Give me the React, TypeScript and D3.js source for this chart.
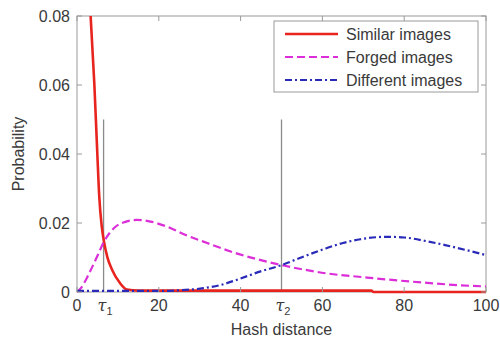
import React from 'react'
import * as d3 from 'd3'

// values
const similarX = [3.33, 4.23, 4.96, 5.45, 6.0, 6.6, 7.4, 8.6, 10.5, 12.2, 15, 72, 72.5, 100]
const similarY = [0.08, 0.0605, 0.0403, 0.0275, 0.0195, 0.0146, 0.0102, 0.0064, 0.0026, 0.0007, 0.0004, 0.0004, 0, 0]

const forgedX = [0, 1, 3, 5, 6.6, 9, 12, 14.6, 18, 22.7, 26, 30.9, 35, 39, 44.7, 50, 55, 61, 70, 77, 85, 93, 100]
const forgedY = [0, 0.0012, 0.0055, 0.0105, 0.0146, 0.0185, 0.0204, 0.0209, 0.0204, 0.0186, 0.0168, 0.0146, 0.0128, 0.0112, 0.0093, 0.0078, 0.0066, 0.0054, 0.0043, 0.0035, 0.0027, 0.002, 0.0016]

const differentX = [0, 20, 25, 30.9, 35, 39, 44.7, 50, 55, 61, 65, 69.3, 75.8, 80, 85.6, 90, 95, 100]
const differentY = [0.0003, 0.0003, 0.0005, 0.0011, 0.002, 0.0035, 0.0059, 0.0078, 0.0101, 0.0127, 0.0142, 0.0153, 0.016, 0.0158, 0.0147, 0.0136, 0.0122, 0.0107]

const xTicks = [0, 20, 40, 60, 80, 100]
const yTicks = [0, 0.02, 0.04, 0.06, 0.08]
const yTickLabels = ['0', '0.02', '0.04', '0.06', '0.08']
const thresholds = [6.5, 50]
const thresholdSubs = ['1', '2']
const thresholdTop = 0.05

const seriesNames = ['Similar images', 'Forged images', 'Different images']
const seriesColors = ['#e8241f', '#dc2ed8', '#2a2ab8']
const seriesDash = ['none', '8 4', '7 3 2 3']
const seriesWidth = [2.6, 2.2, 2.2]

const width = 500
const height = 341
const margin = { top: 16, right: 14, bottom: 49, left: 77 }
const font = '"Liberation Sans", Arial, sans-serif'
const textColor = '#3a3a3a'
const axisColor = '#9a9a9a'

export default function App() {
  const x = d3.scaleLinear().domain([0, 100]).range([margin.left, width - margin.right])
  const y = d3.scaleLinear().domain([0, 0.08]).range([height - margin.bottom, margin.top])

  const line = d3
    .line<[number, number]>()
    .x((d) => x(d[0]))
    .y((d) => y(d[1]))
    .curve(d3.curveMonotoneX)

  const series = [
    d3.zip(similarX, similarY) as [number, number][],
    d3.zip(forgedX, forgedY) as [number, number][],
    d3.zip(differentX, differentY) as [number, number][],
  ]

  const [x0, x1] = x.range()
  const [y0, y1] = y.range()
  const tick = 5

  const legX = 274
  const legY = 21
  const legW = 204
  const legH = 71

  return (
    <svg
      width={width}
      height={height}
      style={{ position: 'absolute', left: 0, top: 0, background: '#fff' }}
      fontFamily={font}
    >
      <defs>
        <clipPath id="plot">
          <rect x={x0} y={y1} width={x1 - x0 + 1} height={y0 - y1 + 3} />
        </clipPath>
      </defs>
      <rect x={0} y={0} width={width} height={height} fill="#fff" />

      {/* threshold lines */}
      {thresholds.map((t, i) => (
        <line
          key={'th' + i}
          x1={x(t)}
          x2={x(t)}
          y1={y(0)}
          y2={y(thresholdTop)}
          stroke="#8a8a8a"
          strokeWidth={1.3}
        />
      ))}

      {/* axes box */}
      <rect x={x0} y={y1} width={x1 - x0} height={y0 - y1} fill="none" stroke={axisColor} strokeWidth={1} />

      {/* curves */}
      <g clipPath="url(#plot)">
        {series.map((s, i) => (
          <path
            key={i}
            d={line(s) || ''}
            fill="none"
            stroke={seriesColors[i]}
            strokeWidth={seriesWidth[i]}
            strokeDasharray={seriesDash[i]}
          />
        ))}
      </g>

      {xTicks.map((t) => (
        <g key={'xt' + t}>
          <line x1={x(t)} x2={x(t)} y1={y0} y2={y0 - tick} stroke={axisColor} />
          <line x1={x(t)} x2={x(t)} y1={y1} y2={y1 + tick} stroke={axisColor} />
          <text x={x(t)} y={y0 + 19} textAnchor="middle" fontSize={16} fill={textColor}>
            {t}
          </text>
        </g>
      ))}
      {thresholds.map((t, i) => (
        <text key={'tl' + i} x={x(t) - 6} y={y0 + 19} fontSize={16} fill={textColor}>
          <tspan fontStyle="italic" fontFamily='"DejaVu Serif", serif'>τ</tspan>
          <tspan fontSize={11} dy={4}>{thresholdSubs[i]}</tspan>
        </text>
      ))}
      {yTicks.map((t, i) => (
        <g key={'yt' + t}>
          <line x1={x0} x2={x0 + tick} y1={y(t)} y2={y(t)} stroke={axisColor} />
          <line x1={x1} x2={x1 - tick} y1={y(t)} y2={y(t)} stroke={axisColor} />
          <text x={x0 - 7} y={y(t)} dy="0.36em" textAnchor="end" fontSize={16} fill={textColor}>
            {yTickLabels[i]}
          </text>
        </g>
      ))}

      {/* axis titles */}
      <text x={(x0 + x1) / 2} y={y0 + 43} textAnchor="middle" fontSize={16} fill={textColor}>
        Hash distance
      </text>
      <text
        transform={`translate(24,${(y0 + y1) / 2}) rotate(-90)`}
        textAnchor="middle"
        fontSize={16}
        fill={textColor}
      >
        Probability
      </text>

      {/* legend */}
      <rect x={legX} y={legY} width={legW} height={legH} fill="#fff" stroke={axisColor} />
      {seriesNames.map((name, i) => {
        const ly = legY + 13 + i * 23
        return (
          <g key={name}>
            <line
              x1={legX + 11}
              x2={legX + 64}
              y1={ly}
              y2={ly}
              stroke={seriesColors[i]}
              strokeWidth={seriesWidth[i]}
              strokeDasharray={seriesDash[i]}
            />
            <text x={legX + 72} y={ly} dy="0.36em" fontSize={16} fill={textColor}>
              {name}
            </text>
          </g>
        )
      })}
    </svg>
  )
}
